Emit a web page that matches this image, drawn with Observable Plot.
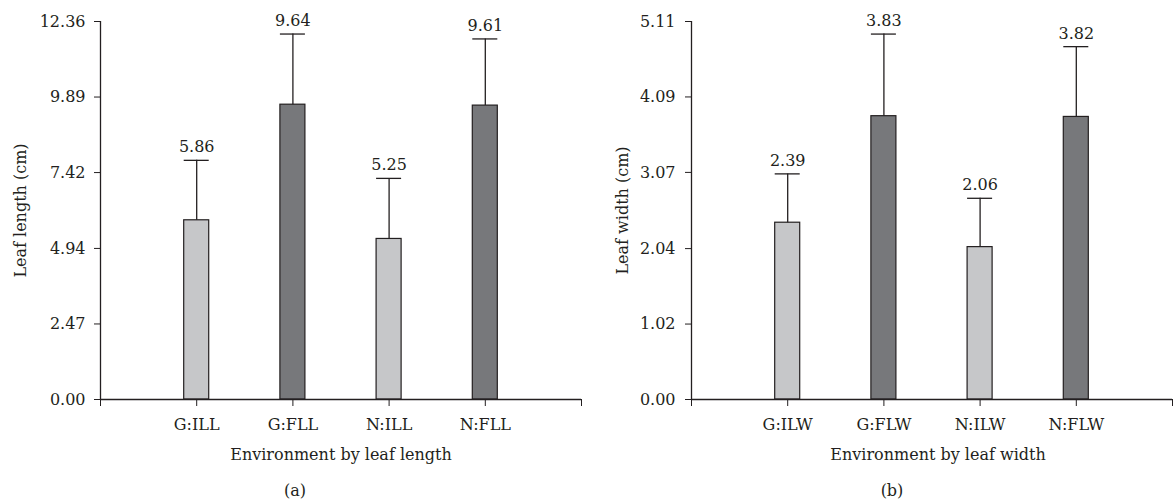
<!DOCTYPE html>
<html><head><meta charset="utf-8">
<script src="https://cdn.jsdelivr.net/npm/d3@7"></script>
<script src="https://cdn.jsdelivr.net/npm/@observablehq/plot@0.6"></script>
<style>
body{margin:0;background:#fff;width:1173px;height:502px;overflow:hidden;font-family:"DejaVu Serif",serif;}
#wrap{position:relative;width:1173px;height:502px;}
.panel{position:absolute;top:0;}
.cap{position:absolute;font-size:16px;line-height:16px;color:#231f20;text-align:center;width:60px;}
</style></head><body>
<div id="wrap"></div>
<script>
// Panel (a): leaf length
const lengthCategories = ["G:ILL", "G:FLL", "N:ILL", "N:FLL"];
const lengthMeans = [5.86, 9.64, 5.25, 9.61];
const lengthUpper = [7.82, 11.95, 7.23, 11.79];
const lengthTicks = [0, 2.47, 4.94, 7.42, 9.89, 12.36];
// Panel (b): leaf width
const widthCategories = ["G:ILW", "G:FLW", "N:ILW", "N:FLW"];
const widthMeans = [2.39, 3.83, 2.06, 3.82];
const widthUpper = [3.05, 4.94, 2.72, 4.77];
const widthTicks = [0, 1.02, 2.04, 3.07, 4.09, 5.11];
// Stage of leaf: initial (I) or final (F)
const stages = ["I", "F", "I", "F"];
const stageDomain = ["I", "F"];
const stageColors = ["#c6c7c9", "#77787b"];

const ink = "#231f20";
const font = '"DejaVu Serif", serif';

function makePanel({cats, means, upper, ticks, yLabel, xLabel, width, marginLeft, marginRight, tickPadding, yLabelDx, xLabelDx}) {
  const rows = cats.map((c, i) => ({cat: c, pos: i + 1, mean: means[i], upper: upper[i], stage: stages[i]}));
  const half = 0.13;
  return Plot.plot({
    width, height: 470, marginLeft, marginRight, marginTop: 21, marginBottom: 71,
    style: {fontFamily: font, fontSize: "16px", color: ink, background: "#fff", overflow: "visible"},
    x: {type: "linear", domain: [0, cats.length + 1], ticks: d3.range(0, cats.length + 2),
        tickFormat: i => cats[i - 1] ?? "", tickSize: 7, tickPadding: 12, label: null},
    y: {domain: [0, ticks[ticks.length - 1]], ticks, tickFormat: d => d.toFixed(2),
        tickSize: 6, tickPadding, label: null},
    color: {domain: stageDomain, range: stageColors},
    marks: [
      Plot.rectY(rows, {x1: d => d.pos - half, x2: d => d.pos + half, y1: 0, y2: "mean", fill: "stage", stroke: ink, strokeWidth: 1.2}),
      Plot.ruleX(rows, {x: "pos", y1: "mean", y2: "upper", stroke: ink, strokeWidth: 1.3}),
      Plot.ruleY(rows, {y: "upper", x1: d => d.pos - half, x2: d => d.pos + half, stroke: ink, strokeWidth: 1.3}),
      Plot.text(rows, {x: "pos", y: "upper", text: d => d.mean.toFixed(2), dy: -8, lineAnchor: "bottom", fill: ink, fontSize: 16}),
      Plot.ruleX([0], {stroke: ink, strokeWidth: 1.3}),
      Plot.ruleY([0], {stroke: ink, strokeWidth: 1.3}),
      Plot.text([yLabel], {text: d => d, frameAnchor: "left", dx: yLabelDx, rotate: -90, textAnchor: "middle", lineAnchor: "bottom", fill: ink, fontSize: 16}),
      Plot.text([xLabel], {text: d => d, frameAnchor: "bottom", dx: xLabelDx, dy: 60, textAnchor: "middle", lineAnchor: "bottom", fill: ink, fontSize: 16})
    ]
  });
}

const wrap = document.getElementById("wrap");
function place(node, left) {
  const d = document.createElement("div");
  d.className = "panel";
  d.style.left = left + "px";
  d.appendChild(node);
  wrap.appendChild(d);
}
place(makePanel({cats: lengthCategories, means: lengthMeans, upper: lengthUpper, ticks: lengthTicks,
  yLabel: "Leaf length (cm)", xLabel: "Environment by leaf length", width: 590, marginLeft: 100, marginRight: 9,
  tickPadding: 9, yLabelDx: -75, xLabelDx: 0}), 0);
place(makePanel({cats: widthCategories, means: widthMeans, upper: widthUpper, ticks: widthTicks,
  yLabel: "Leaf width (cm)", xLabel: "Environment by leaf width", width: 583, marginLeft: 101, marginRight: 1,
  tickPadding: 10, yLabelDx: -64, xLabelDx: 6}), 590);

function caption(text, center) {
  const c = document.createElement("div");
  c.className = "cap";
  c.textContent = text;
  c.style.left = (center - 30) + "px";
  c.style.top = "483px";
  wrap.appendChild(c);
}
caption("(a)", 295);
caption("(b)", 892);
</script>
</body></html>
